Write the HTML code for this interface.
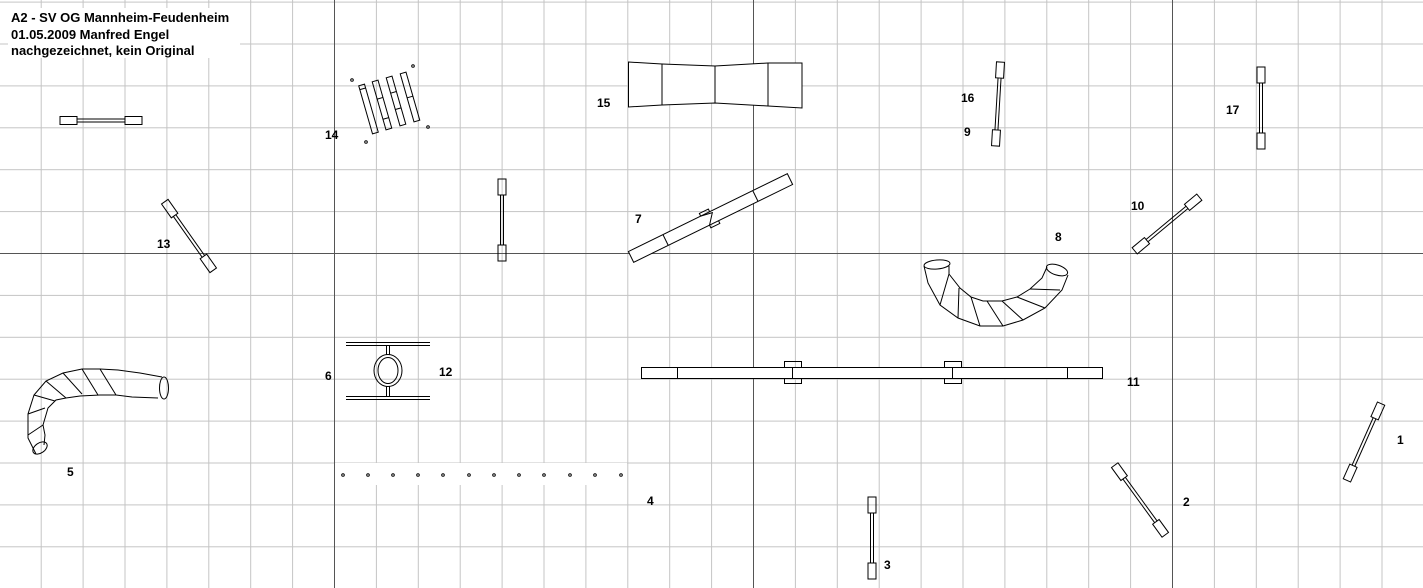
<!DOCTYPE html>
<html><head><meta charset="utf-8"><style>html,body{margin:0;padding:0;background:#fff}svg{display:block}</style></head>
<body>
<svg width="1423" height="588" viewBox="0 0 1423 588" xmlns="http://www.w3.org/2000/svg" font-family="Liberation Sans, sans-serif">
<defs>
<pattern id="g" x="-1.2" y="1.6" width="41.9" height="41.9" patternUnits="userSpaceOnUse">
<path d="M0.5 0V41.9M0 0.5H41.9" stroke="#c4c4c4" stroke-width="1" fill="none"/>
</pattern>
</defs>
<rect width="1423" height="588" fill="#fff"/>
<rect width="1423" height="588" fill="url(#g)"/>
<g stroke="#555" stroke-width="1">
<line x1="334.5" y1="0" x2="334.5" y2="588"/><line x1="753.5" y1="0" x2="753.5" y2="588"/><line x1="1172.5" y1="0" x2="1172.5" y2="588"/>
<line x1="0" y1="253.5" x2="1423" y2="253.5"/>
</g>
<rect x="8" y="8" width="232" height="50" fill="#fff"/>
<g font-size="13" font-weight="bold" fill="#000">
<text x="11" y="22">A2 - SV OG Mannheim-Feudenheim</text>
<text x="11" y="39">01.05.2009 Manfred Engel</text>
<text x="11" y="55">nachgezeichnet, kein Original</text>
</g>
<rect x="335" y="463" width="292" height="22" fill="#fff"/>
<g fill="none" stroke="#000" stroke-width="1">
<g transform="translate(101,120.5)"><rect x="-41" y="-4" width="17" height="8" fill="#fff"/><rect x="24" y="-4" width="17" height="8" fill="#fff"/><line x1="-24" y1="-1.5" x2="24" y2="-1.5"/><line x1="-24" y1="1.5" x2="24" y2="1.5"/></g>
<g transform="translate(189,236) rotate(54.8)"><rect x="-42" y="-4" width="17" height="8"/><rect x="25" y="-4" width="17" height="8"/><line x1="-25" y1="-1.5" x2="25" y2="-1.5"/><line x1="-25" y1="1.5" x2="25" y2="1.5"/></g>
<g transform="translate(502,220) rotate(90)"><rect x="-41" y="-4" width="16" height="8"/><rect x="25" y="-4" width="16" height="8"/><line x1="-25" y1="-1.5" x2="25" y2="-1.5"/><line x1="-25" y1="1.5" x2="25" y2="1.5"/></g>
<g transform="translate(998,104) rotate(93.4)"><rect x="-42" y="-4" width="16" height="8"/><rect x="26" y="-4" width="16" height="8"/><line x1="-26" y1="-1.5" x2="26" y2="-1.5"/><line x1="-26" y1="1.5" x2="26" y2="1.5"/></g>
<g transform="translate(1261,108) rotate(90)"><rect x="-41" y="-4" width="16" height="8"/><rect x="25" y="-4" width="16" height="8"/><line x1="-25" y1="-1.5" x2="25" y2="-1.5"/><line x1="-25" y1="1.5" x2="25" y2="1.5"/></g>
<g transform="translate(1167,224) rotate(-39.7)"><rect x="-42" y="-4" width="16" height="8"/><rect x="26" y="-4" width="16" height="8"/><line x1="-26" y1="-1.5" x2="26" y2="-1.5"/><line x1="-26" y1="1.5" x2="26" y2="1.5"/></g>
<g transform="translate(1364,442) rotate(114)"><rect x="-42" y="-4" width="16" height="8"/><rect x="26" y="-4" width="16" height="8"/><line x1="-26" y1="-1.5" x2="26" y2="-1.5"/><line x1="-26" y1="1.5" x2="26" y2="1.5"/></g>
<g transform="translate(1140,500) rotate(54)"><rect x="-43" y="-4" width="16" height="8"/><rect x="27" y="-4" width="16" height="8"/><line x1="-27" y1="-1.5" x2="27" y2="-1.5"/><line x1="-27" y1="1.5" x2="27" y2="1.5"/></g>
<g transform="translate(872,538) rotate(90)"><rect x="-41" y="-4" width="16" height="8"/><rect x="25" y="-4" width="16" height="8"/><line x1="-25" y1="-1.5" x2="25" y2="-1.5"/><line x1="-25" y1="1.5" x2="25" y2="1.5"/></g>

<!-- 15 chute -->
<path d="M628.5 62 L662 64 L715 66 L768 63 L802 63 L802 108 L768 106 L715 103 L662 105 L628.5 107 Z" fill="#fff"/>
<line x1="662" y1="64" x2="662" y2="105"/><line x1="715" y1="66" x2="715" y2="103"/><line x1="768" y1="63" x2="768" y2="106"/>

<!-- 7 seesaw -->
<g transform="translate(710.5,218) rotate(-26.1)">
<rect x="-88.5" y="-6" width="177" height="12" fill="#fff"/>
<line x1="-50" y1="-6" x2="-50" y2="6"/><line x1="50" y1="-6" x2="50" y2="6"/>
<path d="M-8 -6 L-8 -9 L2 -9 L2 -6 M-4 6 L-4 9 L6 9 L6 6 M-8 -6 L4 -4 L-4 6"/>
</g>

<!-- 11 dogwalk -->
<rect x="641.5" y="367.5" width="461" height="11" fill="#fff"/>
<line x1="677.5" y1="367" x2="677.5" y2="379"/><line x1="1067.5" y1="367" x2="1067.5" y2="379"/>
<rect x="784.5" y="361.5" width="17" height="6"/><rect x="784.5" y="378.5" width="17" height="5"/><line x1="792.5" y1="367" x2="792.5" y2="379"/>
<rect x="944.5" y="361.5" width="17" height="6"/><rect x="944.5" y="378.5" width="17" height="5"/><line x1="952.5" y1="367" x2="952.5" y2="379"/>

<!-- 8 tunnel -->
<path d="M924 266 L928 283 L940 305 L958 318 L980 326 L1003 326 L1023 320 L1045 308 L1062 290 L1068 275"/>
<path d="M949 266 L949 274 L960 288 L971 297 L983 301 L1002 301 L1017 297 L1030 289 L1042 278 L1047 267"/>
<ellipse cx="937" cy="264.5" rx="13" ry="4.5" transform="rotate(-5 937 264.5)"/>
<ellipse cx="1057" cy="270" rx="11" ry="5" transform="rotate(18 1057 270)"/>
<path d="M949 274 L940 305 M959 288 L958 318 M971 297 L980 326 M987 301 L1003 326 M1002 301 L1023 320 M1017 297 L1045 308 M1030 289 L1060 290"/>

<!-- 5 tunnel -->
<path d="M36 454 L28 438 L28 414 L34 395 L46 381 L63 373 L82 369 L100 369 L118 370 L140 373 L162 377"/>
<path d="M44 445 L45 435 L43 425 L48 408 L56 400 L66 398 L80 396 L100 395 L116 395 L132 397 L158 398"/>
<ellipse cx="164" cy="388" rx="4.5" ry="11"/>
<ellipse cx="40" cy="448" rx="8" ry="5" transform="rotate(-35 40 448)"/>
<path d="M28 435 L43 425 M28 414 L45 408 M34 395 L55 401 M46 381 L66 398 M63 373 L82 394 M82 369 L98 395 M100 369 L116 395"/>

<!-- 6/12 tire -->
<line x1="346" y1="342.5" x2="430" y2="342.5"/><line x1="346" y1="345.5" x2="430" y2="345.5"/>
<line x1="346" y1="396.5" x2="430" y2="396.5"/><line x1="346" y1="399.5" x2="430" y2="399.5"/>
<line x1="386.5" y1="346" x2="386.5" y2="355"/><line x1="389.5" y1="346" x2="389.5" y2="355"/>
<line x1="386.5" y1="386" x2="386.5" y2="396"/><line x1="389.5" y1="386" x2="389.5" y2="396"/>
<ellipse cx="388" cy="370.5" rx="14" ry="16"/>
<ellipse cx="388" cy="370.5" rx="10" ry="13"/>

<!-- 14 -->
<g transform="translate(368.5,109) rotate(-16)"><rect x="-3" y="-25" width="6" height="50"/><line x1="-3" y1="-21" x2="3" y2="-21"/></g>
<g transform="translate(382,105) rotate(-16)"><rect x="-3" y="-25" width="6" height="50"/><line x1="-3" y1="-7" x2="3" y2="-7"/><line x1="-3" y1="14" x2="3" y2="14"/></g>
<g transform="translate(396,101) rotate(-16)"><rect x="-3" y="-25" width="6" height="50"/><line x1="-3" y1="-9" x2="3" y2="-9"/><line x1="-3" y1="8" x2="3" y2="8"/></g>
<g transform="translate(410,97) rotate(-16)"><rect x="-3" y="-25" width="6" height="50"/><line x1="-3" y1="0" x2="3" y2="0"/></g>
<circle cx="352" cy="80" r="1.3"/><circle cx="413" cy="66" r="1.3"/><circle cx="428" cy="127" r="1.3"/><circle cx="366" cy="142" r="1.3"/>

<!-- 4 weave -->
<g>
<circle cx="343" cy="475" r="1.3"/><circle cx="368" cy="475" r="1.3"/><circle cx="393" cy="475" r="1.3"/><circle cx="418" cy="475" r="1.3"/><circle cx="443" cy="475" r="1.3"/><circle cx="469" cy="475" r="1.3"/><circle cx="494" cy="475" r="1.3"/><circle cx="519" cy="475" r="1.3"/><circle cx="544" cy="475" r="1.3"/><circle cx="570" cy="475" r="1.3"/><circle cx="595" cy="475" r="1.3"/><circle cx="621" cy="475" r="1.3"/>
</g>
</g>

<g font-size="12" font-weight="bold" fill="#000">
<text x="597" y="107">15</text>
<text x="961" y="102">16</text>
<text x="964" y="136">9</text>
<text x="1226" y="114">17</text>
<text x="325" y="139">14</text>
<text x="157" y="248">13</text>
<text x="635" y="223">7</text>
<text x="1055" y="241">8</text>
<text x="1131" y="210">10</text>
<text x="325" y="380">6</text>
<text x="439" y="376">12</text>
<text x="1127" y="386">11</text>
<text x="1397" y="444">1</text>
<text x="1183" y="506">2</text>
<text x="884" y="569">3</text>
<text x="647" y="505">4</text>
<text x="67" y="476">5</text>
</g>
</svg>
</body></html>
